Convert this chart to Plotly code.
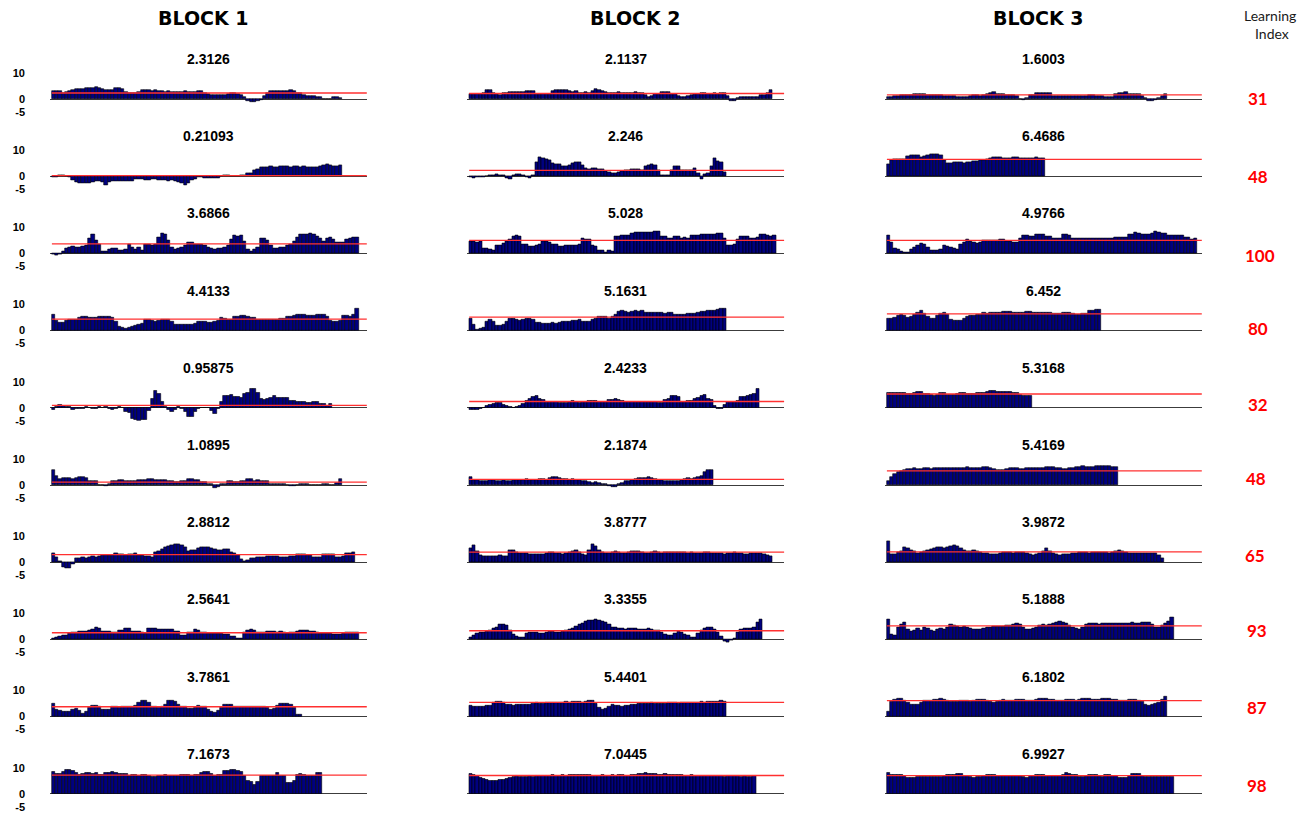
import plotly.graph_objects as go

W, H = 1314, 814

block_titles = ["BLOCK 1", "BLOCK 2", "BLOCK 3"]
learning_index = [31, 48, 100, 80, 32, 48, 65, 93, 87, 98]

# y-axis tick values and their printed labels (plain hyphen for the minus sign)
y_tick_vals = [10, 0, -5]
y_tick_text = ["10", "0", "-5"]

# panel means (shown as title and as the red reference line)
means_b1 = [2.3126, 0.21093, 3.6866, 4.4133, 0.95875, 1.0895, 2.8812, 2.5641, 3.7861, 7.1673]
means_b2 = [2.1137, 2.246, 5.028, 5.1631, 2.4233, 2.1874, 3.8777, 3.3355, 5.4401, 7.0445]
means_b3 = [1.6003, 6.4686, 4.9766, 6.452, 5.3168, 5.4169, 3.9872, 5.1888, 6.1802, 6.9927]

# ---- BLOCK 1 series ----
b1_r1 = [3.0, 3.1, 2.9, 2.5, 2.6, 3.0, 3.6, 3.9, 3.8, 4.0, 4.1, 4.2, 4.4, 4.6, 4.3, 4.0, 3.6, 3.4, 3.6, 4.2,
         4.4, 3.8, 2.6, 2.3, 2.4, 2.2, 2.8, 3.3, 3.4, 3.3, 3.2, 3.3, 3.1, 2.9, 2.8, 2.9, 2.7, 2.8, 2.8, 2.7,
         2.9, 2.8, 2.6, 2.8, 3.1, 3.0, 2.3, 2.1, 1.5, 1.6, 1.7, 1.5, 1.6, 1.9, 2.5, 2.4, 2.0, 1.6, 0.6, -0.6,
         -1.0, -1.2, -0.8, -0.3, 1.3, 2.5, 3.1, 3.2, 3.0, 3.1, 3.2, 3.0, 3.3, 3.1, 2.5, 2.4, 1.4, 1.3, 1.2, 1.3,
         0.9, 0.6, 0, 0, 0, 0.9, 0.8, 0.3]
b1_r2 = [-0.5, -0.3, 0.5, 0.4, 0.1, -0.2, -1.5, -2.2, -2.6, -2.8, -2.7, -2.5, -2.4, -1.9, -1.8, -2.4, -3.6, -2.4,
         -2.0, -1.9, -2.1, -1.8, -2.0, -2.1, -1.9, -1.3, -1.2, -1.2, -1.6, -1.7, -1.2, -1.3, -1.5, -1.6, -1.7,
         -1.8, -1.7, -1.9, -2.2, -2.7, -3.3, -2.6, -1.5, -1.2, -0.5, -0.4, -0.6, -0.8, -0.9, -0.8, -0.6, 0, 0.4,
         0.4, 0.0, 0.1, 0.1, 0.3, 0.5, 1.0, 1.2, 2.4, 2.6, 3.3, 3.5, 3.6, 3.7, 3.5, 3.6, 4.0, 3.9, 3.7, 3.6, 3.8,
         3.7, 3.5, 3.7, 3.6, 3.4, 3.5, 3.3, 4.0, 4.2, 4.5, 4.4, 3.9, 4.0, 4.2]
b1_r3 = [-0.4, -0.8, -0.2, 0.6, 1.8, 2.2, 2.6, 2.5, 2.4, 2.6, 3.2, 5.8, 7.2, 5.0, 3.6, 0.6, 0.9, 1.6, 2.0, 1.8,
         1.3, 1.0, 1.7, 3.4, 2.4, 1.4, 2.2, 1.2, 3.5, 3.6, 3.1, 3.4, 6.0, 7.6, 7.4, 5.0, 2.4, 1.6, 1.9, 2.4,
         3.2, 4.3, 4.2, 3.6, 3.4, 3.5, 3.2, 2.4, 2.0, 1.7, 1.9, 2.1, 2.3, 3.0, 5.4, 6.8, 6.6, 6.9, 4.6, 1.6,
         0.8, 1.4, 2.4, 5.8, 5.6, 5.0, 3.0, 1.8, 1.9, 2.2, 2.4, 3.0, 3.6, 4.6, 6.0, 7.2, 7.4, 7.5, 7.6, 7.2,
         6.4, 5.6, 4.6, 5.8, 6.3, 5.4, 4.3, 4.2, 4.2, 5.4, 5.8, 6.2, 6.0]
b1_r4 = [6.1, 3.7, 3.1, 3.2, 3.7, 4.3, 4.2, 4.3, 4.9, 5.5, 5.3, 4.9, 4.9, 5.0, 5.2, 5.3, 5.3, 5.4, 4.9, 3.3,
         1.6, 1.2, 0.7, 1.3, 1.4, 1.8, 2.2, 2.8, 4.3, 4.3, 4.0, 3.4, 4.0, 4.1, 4.4, 4.4, 3.4, 2.2, 2.5, 2.5,
         2.2, 2.2, 2.3, 2.8, 3.4, 3.5, 3.4, 3.2, 3.2, 3.3, 4.0, 5.0, 4.5, 4.3, 4.4, 5.3, 5.5, 5.9, 5.9, 5.5,
         5.0, 5.0, 4.3, 4.4, 4.3, 4.2, 4.3, 4.4, 4.3, 4.6, 4.8, 5.2, 5.4, 5.8, 6.0, 6.2, 6.1, 5.9, 5.9, 5.8,
         6.2, 6.3, 6.1, 5.5, 4.0, 3.3, 3.4, 4.0, 5.7, 5.8, 5.5, 6.2, 8.6]
b1_r5 = [-0.8, 0.4, 1.0, 0.9, 0.5, 0.4, -0.6, -0.5, -0.4, -0.3, 0.2, 0.1, -0.2, -0.2, 0.2, 0.1, 0.2, -0.3,
         -0.6, -0.5, 0.4, 0.1, -1.5, -2.0, -4.3, -4.8, -5.0, -4.8, -4.6, -1.2, 3.6, 6.6, 5.2, 2.4, 0.5, -0.8,
         -1.6, -0.8, 0.3, -0.2, -1.5, -3.4, -3.6, -1.6, -0.3, 0, 0, -0.1, -1.2, -2.2, -0.3, 2.3, 4.6, 4.8, 5.0,
         4.4, 4.2, 4.0, 5.2, 5.6, 7.4, 7.2, 5.6, 3.6, 3.2, 3.3, 4.0, 4.7, 4.0, 4.0, 3.8, 3.7, 2.8, 2.8, 2.2,
         2.3, 2.2, 2.1, 1.8, 2.3, 2.4, 1.5, 1.4, 0.7, 1.7]
b1_r6 = [5.9, 3.4, 2.5, 2.6, 2.8, 2.7, 2.5, 2.6, 2.9, 3.1, 2.8, 1.5, 1.5, 1.5, 0, 0, -0.4, 0.4, 1.6, 1.7,
         1.9, 1.9, 1.4, 1.5, 1.4, 1.5, 1.9, 2.0, 2.1, 2.4, 2.5, 2.1, 2.1, 1.9, 1.8, 1.5, 1.4, 1.1, 1.2, 1.6,
         1.7, 2.5, 2.5, 2.1, 2.0, 1.1, 1.0, 0.5, 0.4, -1.0, -0.9, 0.4, 0.5, 1.6, 1.5, 1.1, 1.0, 1.5, 1.4, 2.4,
         2.3, 1.7, 1.8, 1.7, 1.5, 1.4, 0.5, 0.5, 0.4, 0.5, 0.4, 0, -0.3, -0.3, 0, 0.3, 0.3, 0.5, 0, 0,
         0, 0, 0.3, 0.3, 0, 0, 0.6, 2.4]
b1_r7 = [3.3, 2.0, 0.2, -1.8, -2.4, -2.3, -0.8, 1.4, 1.5, 1.8, 1.7, 1.8, 2.2, 2.1, 2.3, 2.6, 2.7, 2.7, 2.8, 3.4,
         3.2, 2.9, 2.8, 2.9, 3.0, 3.4, 2.7, 2.6, 2.2, 2.2, 2.1, 3.9, 4.4, 5.1, 5.6, 6.1, 6.7, 6.9, 7.0, 6.6,
         5.7, 4.2, 4.8, 4.6, 5.5, 5.9, 5.9, 5.6, 5.2, 5.0, 4.8, 4.7, 5.1, 4.9, 4.0, 3.6, 2.7, 1.1, 0.5, 0.6,
         1.4, 1.5, 1.9, 2.0, 2.1, 2.3, 2.3, 2.4, 2.2, 1.9, 2.0, 2.0, 2.3, 2.4, 3.1, 3.0, 2.9, 2.8, 2.7, 2.0,
         2.0, 2.1, 3.1, 3.2, 2.9, 2.9, 2.0, 2.1, 2.5, 3.4, 3.6, 4.0]
b1_r8 = [0.3, 0.8, 1.2, 1.4, 1.6, 2.4, 2.6, 2.8, 3.0, 3.1, 3.2, 3.6, 3.7, 4.6, 4.4, 3.2, 3.1, 3.0, 2.6, 2.6,
         3.3, 3.6, 4.2, 4.1, 3.1, 3.0, 3.1, 2.6, 2.5, 4.2, 4.2, 4.1, 3.9, 3.9, 3.8, 3.9, 3.7, 3.1, 3.0, 1.7,
         1.6, 2.6, 2.7, 3.7, 3.6, 2.6, 2.7, 2.4, 2.3, 2.4, 2.2, 2.3, 2.1, 2.0, 1.2, 1.0, 0.3, 0.4, 2.6, 3.4,
         3.7, 3.4, 2.6, 2.6, 2.7, 2.9, 3.0, 2.9, 2.8, 2.9, 2.6, 2.5, 2.6, 2.8, 3.0, 3.4, 3.5, 3.3, 2.9, 2.9,
         2.8, 2.3, 2.3, 2.2, 2.3, 2.0, 2.0, 2.1, 2.2, 2.6, 2.7, 2.7, 2.6]
b1_r9 = [4.9, 2.8, 2.2, 2.0, 2.0, 2.1, 2.6, 3.2, 2.2, 1.3, 1.8, 3.4, 4.4, 4.4, 3.7, 2.7, 2.7, 2.8, 3.7, 3.7,
         3.6, 3.7, 3.7, 3.8, 3.7, 4.3, 5.2, 6.2, 6.2, 5.2, 3.7, 3.7, 3.6, 3.8, 4.6, 6.2, 6.0, 5.7, 4.5, 3.8,
         3.7, 3.2, 3.2, 3.3, 4.1, 3.9, 3.7, 2.8, 2.0, 1.6, 2.4, 3.4, 4.6, 4.6, 4.5, 4.0, 3.9, 4.0, 4.0, 4.0,
         3.7, 3.7, 3.8, 3.9, 3.8, 3.4, 2.7, 3.2, 4.3, 5.0, 5.1, 5.1, 4.8, 3.5, 0.9, 0.9]
b1_r10 = [8.3, 7.7, 7.8, 8.5, 9.3, 9.2, 8.8, 7.9, 7.5, 7.6, 7.9, 7.9, 7.8, 7.9, 7.5, 7.5, 8.0, 8.1, 8.3, 8.2,
          7.7, 7.7, 7.6, 6.9, 7.2, 7.2, 7.1, 7.2, 7.5, 6.9, 6.4, 6.5, 6.9, 7.0, 7.5, 7.1, 7.1, 7.0, 7.1, 7.2,
          7.2, 7.2, 7.1, 7.2, 7.2, 7.9, 8.5, 8.4, 7.6, 6.8, 7.3, 7.2, 8.7, 8.9, 9.2, 9.1, 9.0, 8.5, 6.9, 4.9,
          4.5, 3.3, 4.5, 6.9, 7.0, 6.9, 7.0, 7.1, 7.9, 6.9, 6.8, 4.1, 4.2, 4.9, 7.2, 7.6, 7.5, 6.9, 6.8, 6.9,
          8.0, 7.9]

# ---- BLOCK 2 series ----
b2_r1 = [1.8, 1.8, 1.9, 1.8, 2.5, 3.4, 3.5, 2.5, 1.8, 1.7, 2.2, 2.5, 2.6, 2.7, 2.6, 2.7, 2.8, 3.0, 3.1, 3.0,
         1.9, 1.8, 1.8, 1.9, 1.8, 2.9, 3.6, 3.6, 3.5, 3.4, 2.9, 2.8, 2.9, 2.5, 2.5, 2.6, 2.5, 3.0, 3.8, 3.6,
         3.0, 2.8, 2.5, 2.4, 2.5, 2.6, 2.5, 2.4, 2.5, 2.5, 2.6, 2.5, 2.5, 1.6, 0.9, 1.0, 1.8, 2.0, 2.6, 2.7,
         2.6, 2.0, 1.8, 1.2, 0.7, 0.8, 1.3, 1.4, 2.0, 2.1, 2.2, 2.2, 2.1, 2.1, 2.2, 2.1, 2.5, 2.4, 1.3, -0.8,
         -0.6, 0.3, 0.7, 0.9, 0.9, 0.8, 0.7, 0.7, 1.6, 1.7, 2.2, 3.4]
b2_r2 = [-0.5, -0.6, -0.5, -0.3, -0.2, -0.1, 0.3, 0.4, 0.6, 0.5, 0.2, -0.8, -1.1, 0.2, 0.8, 0.8, 0.3, -0.4,
         -0.7, 0.2, 5.5, 7.2, 7.0, 6.4, 6.2, 5.0, 4.8, 4.6, 4.0, 4.0, 4.4, 5.0, 5.5, 5.2, 4.2, 2.9, 2.8, 3.0,
         3.0, 2.8, 2.6, 2.0, 1.5, 1.2, 1.3, 1.6, 2.0, 2.4, 2.5, 2.8, 2.8, 2.6, 2.3, 3.8, 4.4, 4.5, 4.4, 2.3,
         0.2, 0.2, 0.2, 2.5, 4.0, 3.8, 2.5, 2.4, 2.2, 2.3, 3.2, 1.2, -1.0, 0.8, 1.0, 4.0, 7.0, 5.6, 5.4, 1.5]
b2_r3 = [4.6, 4.5, 4.4, 4.5, 2.0, 1.8, 1.4, 1.3, 2.9, 3.0, 3.9, 4.6, 5.2, 6.4, 7.0, 6.6, 3.6, 3.4, 2.6, 2.8,
         3.2, 3.4, 4.5, 4.6, 4.4, 3.5, 3.4, 2.6, 2.7, 3.0, 3.0, 3.1, 3.0, 3.5, 5.6, 5.4, 5.2, 3.0, 2.6, 1.1,
         1.0, 0.4, 1.0, 0.8, 6.4, 6.5, 7.0, 7.1, 7.0, 7.8, 8.0, 8.0, 7.9, 8.0, 8.1, 8.0, 8.4, 8.3, 6.5, 6.4,
         5.8, 5.9, 6.7, 6.6, 5.9, 6.0, 5.9, 7.1, 7.0, 7.1, 7.4, 7.3, 7.4, 7.4, 7.3, 7.8, 7.7, 5.8, 3.2, 3.0,
         3.3, 5.5, 6.7, 6.6, 6.6, 5.9, 5.8, 6.0, 7.4, 7.3, 6.8, 6.7, 7.0]
b2_r4 = [4.6, 2.2, 0.5, 0.8, 1.3, 3.5, 4.1, 3.5, 2.1, 2.0, 2.2, 3.5, 4.6, 4.5, 4.1, 4.0, 4.2, 4.8, 4.7, 4.1,
         3.1, 3.0, 2.8, 2.7, 2.8, 2.9, 2.8, 2.9, 3.4, 3.3, 3.5, 3.8, 3.9, 4.1, 3.5, 3.4, 3.4, 4.1, 4.5, 5.4,
         5.3, 5.4, 4.6, 5.5, 6.0, 7.2, 7.6, 7.2, 7.1, 7.3, 7.6, 7.5, 7.6, 7.0, 7.0, 6.9, 6.8, 6.9, 6.8, 6.7,
         6.8, 6.8, 6.3, 6.2, 6.0, 6.1, 6.5, 6.6, 6.7, 6.8, 7.2, 7.3, 7.6, 7.7, 7.8, 8.2, 8.3, 8.5]
b2_r5 = [-0.8, -0.9, -0.7, -0.5, 0, 0.6, 1.2, 1.5, 1.8, 1.8, 1.2, 0.6, 0.2, 0.1, 0.3, 0.8, 1.5, 2.6, 3.4, 4.3,
         4.7, 3.6, 3.0, 2.4, 2.5, 2.2, 2.2, 1.9, 1.9, 2.0, 2.4, 2.7, 2.5, 1.9, 2.3, 2.3, 2.7, 2.8, 2.7, 2.3,
         2.3, 2.4, 3.2, 3.2, 3.3, 3.2, 2.7, 2.3, 2.3, 2.3, 2.4, 2.3, 2.2, 2.3, 2.4, 2.3, 2.2, 1.9, 1.9, 3.0,
         3.6, 4.8, 4.7, 4.2, 2.3, 2.4, 2.7, 2.7, 3.3, 4.0, 4.8, 4.9, 3.6, 3.0, 0.8, -0.4, -0.3, 1.1, 2.2, 2.3,
         2.4, 2.6, 4.2, 4.4, 4.8, 5.0, 5.5, 7.3]
b2_r6 = [3.2, 2.0, 1.8, 1.7, 1.7, 1.6, 1.8, 1.9, 1.7, 1.6, 1.8, 1.7, 1.6, 1.8, 1.9, 1.8, 2.0, 2.2, 2.1, 1.9,
         2.0, 2.3, 2.2, 2.0, 2.8, 3.0, 2.9, 2.6, 2.5, 2.3, 2.0, 2.2, 2.0, 1.8, 1.6, 1.4, 1.0, 0.9, 1.1, 0.8,
         0.5, 0.2, -0.3, -0.7, -0.6, 0.3, 0.8, 1.4, 1.6, 2.0, 2.4, 2.6, 2.8, 2.7, 2.9, 2.6, 2.4, 2.1, 1.9, 1.6,
         1.5, 1.6, 1.7, 1.5, 2.0, 2.4, 2.6, 2.4, 2.6, 3.0, 3.3, 5.0, 5.6, 5.8]
b2_r7 = [5.5, 6.6, 4.2, 2.6, 2.4, 2.5, 2.3, 2.2, 2.4, 2.6, 2.5, 2.3, 4.6, 4.8, 4.0, 3.6, 3.4, 3.3, 3.2, 3.0,
         2.9, 3.0, 3.2, 3.4, 4.0, 3.8, 3.6, 3.4, 3.2, 3.6, 3.8, 4.4, 4.6, 3.8, 3.0, 2.6, 4.8, 6.8, 6.2, 4.6,
         3.8, 3.6, 3.5, 3.9, 4.2, 4.0, 3.6, 3.4, 3.8, 4.2, 4.4, 4.2, 3.8, 3.6, 3.4, 3.9, 4.2, 4.0, 3.6, 3.8,
         4.0, 3.9, 3.8, 3.9, 4.0, 3.8, 3.6, 3.7, 3.6, 3.5, 3.6, 3.7, 3.8, 3.6, 3.4, 3.5, 3.3, 3.2, 3.4, 3.6,
         3.8, 3.6, 3.3, 3.0, 3.2, 3.4, 3.5, 3.6, 3.4, 3.2, 2.8, 2.4]
b2_r8 = [0.8, 1.4, 2.2, 2.6, 2.8, 3.2, 3.6, 4.2, 4.8, 5.6, 5.8, 5.2, 3.4, 2.0, 1.0, 0.6, 0.8, 2.2, 2.6, 2.8,
         2.6, 2.4, 2.5, 2.7, 2.9, 3.2, 2.8, 2.6, 3.0, 3.4, 3.8, 4.4, 5.0, 5.6, 6.2, 6.8, 7.2, 7.5, 7.6, 7.4,
         7.0, 6.4, 5.6, 4.8, 4.6, 4.4, 4.2, 4.0, 4.1, 4.3, 4.2, 4.0, 3.8, 4.0, 4.2, 3.9, 3.6, 3.4, 2.6, 1.8,
         1.4, 1.6, 2.4, 3.0, 2.8, 2.0, 1.4, 0.8, 0.6, 2.4, 3.4, 4.4, 4.8, 4.6, 4.0, 2.6, 1.0, -0.6, -1.2, -0.4,
         0.4, 2.6, 4.0, 4.2, 4.1, 4.4, 4.6, 6.6, 7.6]
b2_r9 = [4.2, 4.0, 3.9, 3.8, 4.0, 4.2, 4.4, 5.4, 5.8, 5.6, 5.4, 4.8, 4.6, 4.4, 4.6, 4.8, 4.5, 4.6, 4.8, 5.0,
         5.2, 5.1, 5.0, 5.2, 5.4, 5.3, 5.2, 5.4, 5.5, 5.6, 5.4, 5.6, 5.8, 5.6, 5.5, 5.8, 6.0, 6.2, 5.0, 3.6,
         2.8, 3.2, 4.0, 4.6, 4.4, 4.2, 4.0, 4.1, 4.3, 4.6, 4.8, 5.0, 5.1, 4.9, 5.0, 5.2, 5.1, 5.0, 4.9, 5.1,
         5.2, 5.3, 5.2, 5.1, 5.3, 5.4, 5.2, 5.3, 5.5, 5.4, 5.6, 5.5, 5.7, 5.6, 5.8, 5.9, 6.0, 5.9]
b2_r10 = [7.6, 7.2, 6.8, 6.2, 5.8, 5.2, 5.0, 4.9, 5.0, 5.2, 5.4, 5.8, 6.2, 6.6, 6.8, 6.6, 6.4, 6.6, 6.8, 6.6,
          6.8, 7.0, 6.9, 6.8, 7.0, 7.2, 7.0, 7.1, 7.2, 7.0, 7.2, 7.4, 7.5, 7.3, 7.2, 7.4, 7.2, 7.0, 7.1, 7.0,
          7.2, 7.1, 7.0, 7.2, 7.1, 7.3, 7.2, 7.0, 7.1, 7.2, 7.4, 7.6, 7.8, 8.0, 7.8, 7.6, 7.7, 7.5, 7.4, 7.6,
          7.4, 7.3, 7.2, 7.4, 7.2, 7.0, 7.1, 7.2, 7.0, 6.9, 7.0, 7.1, 7.0, 6.8, 6.9, 7.0, 6.8, 6.7, 6.8, 6.9,
          7.0, 6.8, 6.6, 6.8, 6.7, 6.6, 6.8]

# ---- BLOCK 3 series ----
b3_r1 = [0.8, 0.9, 1.1, 1.2, 1.5, 1.5, 1.6, 1.5, 2.0, 2.0, 2.1, 1.9, 1.6, 1.7, 1.6, 1.5, 1.6, 1.1, 1.2, 1.1,
         1.0, 0.9, 0.9, 0.8, 0.9, 1.0, 1.4, 1.4, 1.3, 1.5, 2.1, 2.2, 2.8, 2.0, 2.1, 2.0, 1.6, 1.7, 1.6, 1.0,
         0, -0.2, 0.2, 1.5, 1.6, 2.2, 2.3, 2.4, 2.3, 2.2, 1.1, 1.2, 1.1, 1.0, 1.1, 1.2, 1.1, 1.1, 1.0, 1.2,
         1.1, 1.6, 1.7, 1.1, 1.1, 1.0, 0.8, 0.7, 0.8, 2.0, 2.2, 2.5, 2.6, 2.0, 2.1, 2.0, 1.9, 1.0, 0.3, -0.6,
         -0.9, -0.5, 0.5, 1.0, 1.8]
b3_r2 = [4.6, 6.2, 6.4, 6.5, 6.4, 6.6, 7.8, 7.9, 8.2, 8.1, 7.5, 7.6, 8.2, 8.3, 8.6, 8.5, 8.0, 6.2, 4.9, 5.0,
         5.3, 5.4, 5.5, 4.9, 5.3, 5.2, 5.8, 5.9, 6.2, 6.3, 6.7, 6.8, 7.2, 7.3, 7.2, 6.8, 6.9, 6.8, 7.5, 7.4,
         7.0, 7.1, 7.0, 6.9, 7.0, 7.2, 7.0, 7.0]
b3_r3 = [6.8, 4.2, 2.0, 1.4, 0.9, 0.4, 0.4, 1.6, 2.2, 3.0, 3.7, 3.6, 2.4, 1.3, 1.2, 1.3, 1.7, 2.9, 2.8, 2.2,
         2.0, 1.7, 3.3, 4.2, 5.3, 4.6, 4.4, 3.9, 4.3, 5.0, 4.9, 5.0, 5.1, 5.0, 5.5, 5.4, 4.6, 4.5, 4.2, 4.3,
         5.9, 6.9, 6.8, 6.6, 6.5, 7.3, 7.5, 7.4, 6.6, 6.4, 5.7, 5.8, 5.7, 7.2, 7.2, 7.0, 5.9, 5.8, 5.7, 5.6,
         5.7, 5.8, 5.7, 5.6, 5.7, 5.7, 5.6, 5.7, 5.8, 6.1, 6.0, 6.2, 6.3, 7.4, 7.5, 7.9, 7.8, 7.4, 7.5, 7.4,
         7.6, 8.3, 8.2, 7.7, 7.6, 6.9, 6.8, 6.9, 7.1, 7.0, 6.3, 6.2, 5.5, 5.6]
b3_r4 = [4.5, 4.8, 5.1, 5.6, 6.2, 5.6, 5.1, 5.2, 6.0, 6.9, 7.8, 6.6, 5.3, 4.7, 4.8, 5.6, 6.5, 6.8, 6.0, 4.1,
         3.9, 3.8, 3.9, 4.7, 5.3, 5.6, 5.7, 6.1, 6.2, 6.8, 6.7, 6.8, 6.8, 6.9, 6.8, 7.4, 7.4, 7.3, 6.9, 6.9,
         6.8, 6.9, 7.4, 7.3, 6.9, 6.9, 6.8, 6.9, 6.9, 6.8, 6.6, 6.6, 6.7, 6.9, 6.8, 6.9, 6.5, 6.1, 6.0, 6.6,
         6.7, 7.6, 7.7, 8.2, 8.2]
b3_r5 = [5.7, 5.8, 5.7, 5.6, 5.7, 5.6, 5.3, 5.3, 5.7, 6.1, 6.0, 5.4, 5.3, 4.9, 4.8, 4.9, 5.7, 5.6, 5.1, 5.0,
         5.1, 5.4, 5.9, 5.8, 5.4, 5.3, 5.4, 5.7, 5.6, 5.7, 6.1, 6.5, 6.4, 6.2, 6.3, 6.2, 6.2, 6.1, 5.7, 5.6,
         5.1, 4.7, 4.6, 4.5]
b3_r6 = [1.6, 3.0, 4.4, 5.0, 5.4, 5.8, 6.0, 6.2, 6.4, 6.3, 6.2, 6.4, 6.5, 6.3, 6.4, 6.5, 6.6, 6.4, 6.5, 6.6,
         6.7, 6.5, 6.4, 6.6, 6.8, 6.6, 6.4, 6.5, 6.7, 6.9, 6.8, 6.6, 6.2, 5.8, 5.6, 5.8, 6.2, 6.4, 6.6, 6.5,
         6.3, 6.2, 6.4, 6.6, 6.5, 6.4, 6.5, 6.7, 6.9, 7.0, 6.8, 6.6, 6.4, 6.3, 6.2, 6.4, 6.6, 6.8, 7.0, 7.2,
         7.1, 6.9, 7.0, 7.2, 7.3, 7.4, 7.3, 7.2, 7.0, 6.9]
b3_r7 = [8.0, 3.2, 3.0, 4.0, 4.4, 5.6, 5.4, 4.6, 4.2, 3.6, 3.8, 4.4, 4.8, 5.0, 5.4, 5.8, 5.6, 5.2, 5.6, 6.0,
         6.4, 6.0, 5.4, 4.6, 4.2, 4.4, 4.6, 4.4, 4.0, 3.6, 3.4, 3.2, 3.0, 3.2, 3.6, 3.8, 3.9, 3.8, 3.6, 3.7,
         3.9, 3.8, 3.5, 3.0, 2.6, 3.0, 3.4, 4.4, 5.2, 4.2, 3.4, 3.0, 2.8, 2.9, 3.0, 3.2, 3.4, 3.6, 3.8, 4.0,
         3.8, 3.6, 3.7, 3.9, 4.0, 3.9, 3.8, 3.6, 3.8, 4.2, 4.6, 4.4, 4.0, 3.6, 3.4, 3.5, 3.6, 3.5, 3.4, 3.6,
         3.5, 3.3, 2.8, 1.6]
b3_r8 = [7.6, 2.0, 1.6, 4.6, 5.8, 6.4, 4.0, 3.2, 3.6, 4.2, 3.4, 4.6, 4.4, 3.6, 3.2, 3.8, 4.4, 4.0, 4.8, 5.6,
         5.2, 5.0, 4.8, 5.0, 4.8, 4.4, 4.0, 3.8, 4.0, 4.2, 4.6, 4.8, 5.0, 4.9, 5.1, 5.0, 5.2, 5.4, 5.8, 6.0,
         5.6, 4.6, 4.0, 3.8, 4.2, 4.8, 5.4, 5.6, 5.4, 5.8, 6.2, 6.6, 6.8, 6.6, 6.2, 5.4, 4.8, 4.2, 4.0, 4.6,
         5.6, 6.0, 6.2, 6.0, 5.8, 6.0, 6.1, 6.0, 6.2, 6.1, 6.0, 6.2, 6.3, 6.2, 6.4, 6.3, 6.2, 6.4, 6.6, 6.4,
         5.6, 4.8, 4.6, 5.2, 6.0, 7.0, 8.4]
b3_r9 = [2.0, 5.8, 6.6, 7.0, 6.8, 6.2, 5.2, 4.8, 4.6, 4.8, 5.4, 6.0, 6.2, 6.0, 6.4, 6.6, 6.8, 6.6, 6.2, 5.8,
         5.6, 5.8, 6.0, 6.2, 6.0, 5.8, 6.0, 6.4, 6.6, 6.4, 6.0, 5.6, 5.4, 5.8, 6.2, 6.4, 6.2, 6.0, 6.2, 6.4,
         6.6, 6.4, 6.2, 6.0, 6.2, 6.6, 6.8, 7.0, 6.8, 6.6, 6.4, 6.2, 6.0, 6.2, 6.4, 6.6, 6.4, 6.2, 6.4, 6.8,
         7.0, 6.8, 6.6, 6.4, 6.6, 6.8, 7.0, 6.8, 6.6, 6.4, 6.2, 6.0, 6.2, 6.4, 6.6, 6.4, 6.2, 5.6, 4.8, 4.4,
         4.6, 5.0, 5.4, 6.4, 7.6]
b3_r10 = [7.9, 7.4, 7.5, 7.4, 7.3, 6.8, 6.1, 6.0, 6.2, 6.5, 6.4, 6.5, 6.6, 6.5, 6.4, 6.5, 6.6, 7.0, 7.3, 7.3,
          7.2, 7.7, 7.6, 7.1, 7.0, 6.4, 6.3, 6.4, 6.5, 6.9, 7.3, 7.2, 7.3, 6.9, 6.8, 6.9, 7.0, 6.9, 6.8, 6.9,
          6.9, 6.4, 6.3, 6.9, 6.8, 7.3, 7.2, 7.3, 6.9, 6.8, 6.9, 7.0, 6.9, 7.5, 7.9, 7.8, 7.3, 7.2, 6.4, 6.4,
          7.0, 7.3, 7.2, 7.3, 6.8, 6.7, 7.3, 7.2, 6.9, 6.8, 6.2, 6.1, 6.2, 6.9, 7.7, 7.6, 7.7, 7.1, 6.6, 6.6,
          6.5, 6.6, 6.6, 6.5, 6.6, 6.6, 6.5]

series = [
    [b1_r1, b1_r2, b1_r3, b1_r4, b1_r5, b1_r6, b1_r7, b1_r8, b1_r9, b1_r10],
    [b2_r1, b2_r2, b2_r3, b2_r4, b2_r5, b2_r6, b2_r7, b2_r8, b2_r9, b2_r10],
    [b3_r1, b3_r2, b3_r3, b3_r4, b3_r5, b3_r6, b3_r7, b3_r8, b3_r9, b3_r10],
]
means = [means_b1, means_b2, means_b3]

# ---- geometry (pixels) ----
block_left = [50.0, 467.3, 885.0]
panel_w = 316.8
row0 = 99.0          # y pixel of the zero line in the first row
row_step = 77.2
px_per_unit = 2.6
y_lo, y_hi = -5, 10
n_slots = 96

block_title_x = [203, 635, 1038]
li_pos = [(1258, 99), (1258, 176), (1260, 255), (1258, 328), (1258, 404),
          (1256, 479), (1255, 555), (1257, 630), (1257, 707), (1257, 785)]

BAR_FILL = "#000080"
REF_RED = "#ff3030"

fig = go.Figure()
axes = {}
shapes = []
annotations = []


def px_x(x):
    return x / W


def px_y(y):
    return 1 - y / H


for c in range(3):
    for r in range(10):
        n = r * 3 + c + 1
        sfx = "" if n == 1 else str(n)
        vals = series[c][r]
        xs = list(range(1, len(vals) + 1))
        fig.add_trace(go.Bar(
            x=xs, y=vals, xaxis="x" + sfx, yaxis="y" + sfx,
            marker=dict(color=BAR_FILL, line=dict(color="#000000", width=0.6)),
            showlegend=False, hoverinfo="y",
        ))
        base = row0 + row_step * r
        top_px = base - y_hi * px_per_unit
        bot_px = base - y_lo * px_per_unit
        left = block_left[c]
        axes["xaxis" + sfx] = dict(
            domain=[px_x(left), px_x(left + panel_w)], range=[0, n_slots],
            visible=False, anchor="y" + sfx, fixedrange=True, automargin=False,
        )
        axes["yaxis" + sfx] = dict(
            domain=[px_y(bot_px), px_y(top_px)], range=[y_lo, y_hi], anchor="x" + sfx,
            showgrid=False, zeroline=True, zerolinecolor="#3c3c3c", zerolinewidth=1,
            showline=False, ticks="", tickmode="array",
            tickvals=y_tick_vals, ticktext=y_tick_text,
            showticklabels=(c == 0), ticklabelstandoff=24, automargin=False,
            tickfont=dict(family="Liberation Sans, Arial, sans-serif", size=11,
                          color="#000000", weight="bold"),
            fixedrange=True,
        )
        m = means[c][r]
        shapes.append(dict(
            type="line", xref="x" + sfx + " domain", yref="y" + sfx,
            x0=0.006, x1=1.0, y0=m, y1=m,
            line=dict(color=REF_RED, width=1.3), layer="above",
        ))
        annotations.append(dict(
            x=px_x(left + panel_w / 2), y=px_y(base - 40), xref="paper", yref="paper",
            text="<b>%s</b>" % m, showarrow=False, xanchor="center", yanchor="middle",
            font=dict(family="Liberation Sans, Arial, sans-serif", size=14, color="#000000"),
        ))

for c, t in enumerate(block_titles):
    annotations.append(dict(
        x=px_x(block_title_x[c]), y=px_y(18), xref="paper", yref="paper",
        text="<b>%s</b>" % t, showarrow=False, xanchor="center", yanchor="middle",
        font=dict(family="DejaVu Sans, sans-serif", size=19, color="#000000"),
    ))

annotations.append(dict(x=px_x(1270), y=px_y(15), xref="paper", yref="paper", text="Learning",
                        showarrow=False, xanchor="center", yanchor="middle",
                        font=dict(family="Lato, sans-serif", size=14, color="#1a1a1a")))
annotations.append(dict(x=px_x(1272), y=px_y(34), xref="paper", yref="paper", text="Index",
                        showarrow=False, xanchor="center", yanchor="middle",
                        font=dict(family="Lato, sans-serif", size=14, color="#1a1a1a")))

for (lx, ly), v in zip(li_pos, learning_index):
    annotations.append(dict(
        x=px_x(lx), y=px_y(ly), xref="paper", yref="paper", text="<b>%d</b>" % v,
        showarrow=False, xanchor="center", yanchor="middle",
        font=dict(family="Lato, sans-serif", size=17, color="#ff0000"),
    ))

fig.update_layout(
    width=W, height=H,
    margin=dict(l=0, r=0, t=0, b=0, pad=0, autoexpand=False),
    paper_bgcolor="#ffffff", plot_bgcolor="#ffffff",
    bargap=0, barmode="overlay",
    shapes=shapes, annotations=annotations,
    **axes,
)

fig.write_html("out.html")
